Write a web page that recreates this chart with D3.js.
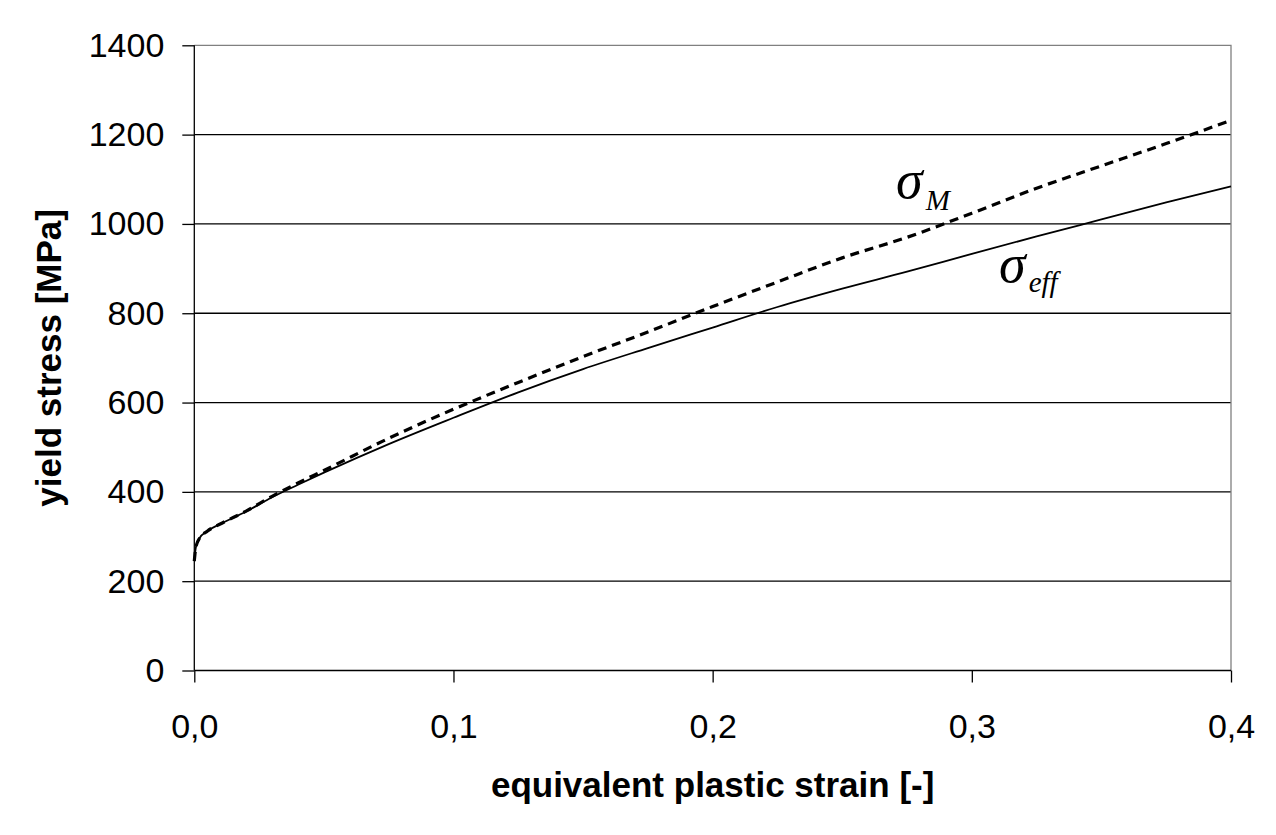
<!DOCTYPE html>
<html>
<head>
<meta charset="utf-8">
<script src="https://cdn.jsdelivr.net/npm/d3@7"></script>
<style>
  body { margin: 0; background: #fff; }
  svg { display: block; }
</style>
</head>
<body>
<div class="chart"></div>
<script>
// strain values
const strain = [0, 0.0005, 0.001, 0.002, 0.005, 0.01, 0.02, 0.03, 0.04, 0.05, 0.075, 0.1, 0.125, 0.15, 0.175, 0.2, 0.225, 0.25, 0.275, 0.3, 0.325, 0.35, 0.375, 0.4];
const sigmaEff = [245, 272, 284, 296, 312, 328, 356, 388, 416, 443, 507, 566, 623, 675, 722, 768, 814, 855, 893, 933, 972, 1010, 1048, 1084];
const sigmaM = [245, 272, 284, 296, 312, 328, 357, 390, 420, 448, 520, 585, 645, 703, 758, 815, 870, 924, 970, 1024, 1080, 1130, 1180, 1232];
const xTicks = [0, 0.1, 0.2, 0.3, 0.4];
const yTicks = [0, 200, 400, 600, 800, 1000, 1200, 1400];

const W = 1276, H = 835;
const margin = { top: 45.3, right: 45, bottom: 164.5, left: 194.3 };
const width = W - margin.left - margin.right;
const height = H - margin.top - margin.bottom;

const xScale = d3.scaleLinear().domain([0, 0.4]).range([0, width]);
const yScale = d3.scaleLinear().domain([0, 1400]).range([height, 0]);

const svg = d3.select(".chart").append("svg")
    .attr("width", W)
    .attr("height", H);

const g = svg.append("g")
    .attr("transform", `translate(${margin.left},${margin.top})`);

// gridlines
g.append("g")
    .selectAll("line")
    .data(yTicks.filter(d => d > 0 && d < 1400))
    .join("line")
    .attr("x1", 0)
    .attr("x2", width)
    .attr("y1", d => yScale(d))
    .attr("y2", d => yScale(d))
    .attr("stroke", "#000")
    .attr("stroke-width", 1.3);

// grey frame top / right
g.append("path")
    .attr("d", `M0,${yScale(1400)}H${width}V${height}`)
    .attr("fill", "none")
    .attr("stroke", "#808080")
    .attr("stroke-width", 1.3);

const xAxis = d3.axisBottom(xScale)
    .tickValues(xTicks)
    .tickSize(12)
    .tickSizeOuter(0)
    .tickPadding(31)
    .tickFormat(d => d3.format(".1f")(d).replace(".", ","));

const yAxis = d3.axisLeft(yScale)
    .tickValues(yTicks)
    .tickSize(12)
    .tickSizeOuter(0)
    .tickPadding(18)
    .tickFormat(d3.format("d"));

const gx = g.append("g")
    .attr("transform", `translate(0,${height})`)
    .call(xAxis);

const gy = g.append("g")
    .call(yAxis);

[gx, gy].forEach(a => {
    a.selectAll("path, line").attr("stroke", "#000").attr("stroke-width", 1.3);
    a.selectAll("text")
        .attr("fill", "#000")
        .style("font-family", "'Liberation Sans', Arial, sans-serif")
        .style("font-size", "34px");
});
gx.select(".domain").attr("d", `M0,0H${width}`);
gy.select(".domain").attr("d", `M0,${height}V0`);

// axis titles
svg.append("text")
    .attr("x", margin.left + width / 2)
    .attr("y", 797)
    .attr("text-anchor", "middle")
    .style("font-family", "'Liberation Sans', Arial, sans-serif")
    .style("font-size", "35px")
    .style("font-weight", "bold")
    .text("equivalent plastic strain [-]");

svg.append("text")
    .attr("transform", `translate(61,${margin.top + height / 2}) rotate(-90)`)
    .attr("text-anchor", "middle")
    .style("font-family", "'Liberation Sans', Arial, sans-serif")
    .style("font-size", "35px")
    .style("font-weight", "bold")
    .text("yield stress [MPa]");

// curves
const line = d3.line()
    .x(d => xScale(d[0]))
    .y(d => yScale(d[1]))
    .curve(d3.curveMonotoneX);

g.append("path")
    .datum(strain.map((s, i) => [s, sigmaEff[i]]))
    .attr("d", line)
    .attr("fill", "none")
    .attr("stroke", "#000")
    .attr("stroke-width", 1.8);

g.append("path")
    .datum(strain.map((s, i) => [s, sigmaM[i]]))
    .attr("d", line)
    .attr("fill", "none")
    .attr("stroke", "#000")
    .attr("stroke-width", 3.2)
    .attr("stroke-dasharray", "9,6");

// curve labels
function sigmaLabel(x, y, sub, dy) {
    const t = svg.append("text")
        .attr("x", x)
        .attr("y", y)
        .style("font-family", "'Liberation Serif', 'Times New Roman', serif")
        .style("font-style", "italic");
    t.append("tspan").style("font-size", "54px").text("σ");
    t.append("tspan").style("font-size", "29px").attr("dx", 3).attr("dy", dy).text(sub);
}
sigmaLabel(896, 198, "M", 12);
sigmaLabel(999, 282, "eff", 10);
</script>
</body>
</html>
